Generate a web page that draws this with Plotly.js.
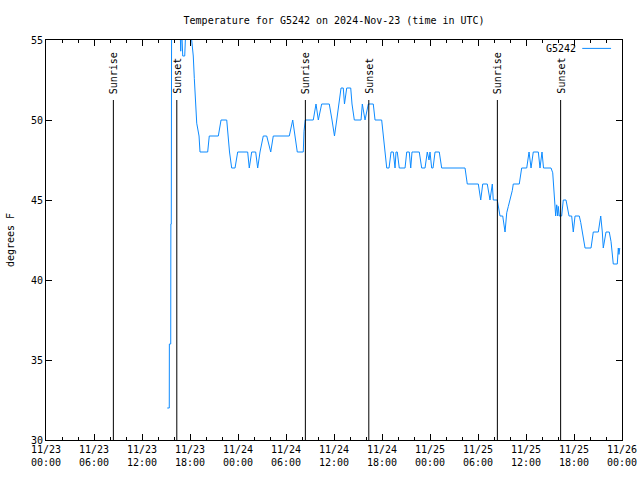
<!DOCTYPE html>
<html>
<head>
<meta charset="utf-8">
<script src="https://cdn.plot.ly/plotly-3.0.1.min.js"></script>
<style>html,body{margin:0;padding:0;background:#fff}#chart{width:640px;height:480px}</style>
</head>
<body>
<div id="chart"></div>
<script>
// hours since 2024-11-23 00:00 UTC
const hours = [15.16,15.41,15.42,15.59,15.61,15.66,15.7,16.75,16.84,16.94,17.09,17.34,17.5,18.0,18.21,18.41,18.54,18.75,18.84,19.13,19.25,20.21,20.41,21.54,21.88,22.59,22.75,22.94,23.21,23.63,23.96,25.21,25.41,25.71,26.21,26.46,26.75,27.16,27.59,28.09,28.41,30.41,30.84,31.13,31.41,32.16,32.25,32.41,33.41,33.75,34.04,34.46,35.41,35.75,36.06,36.34,36.63,36.88,37.16,37.31,37.59,38.09,38.25,38.54,39.38,39.54,39.88,40.29,40.91,41.13,41.96,42.16,42.38,42.59,42.88,43.13,43.41,43.63,43.75,43.91,44.16,44.88,45.09,45.41,45.59,45.75,45.91,46.66,46.96,47.38,47.66,47.88,48.0,48.21,48.38,48.63,49.16,49.46,52.38,52.66,54.04,54.34,54.59,55.16,55.5,55.79,55.91,56.41,56.75,57.09,57.38,57.59,57.79,58.0,58.29,58.41,59.16,59.46,60.09,60.38,60.63,60.91,61.54,61.75,62.0,62.19,63.13,63.34,63.5,63.63,63.71,63.84,63.96,64.04,64.16,64.46,64.66,65.0,65.16,65.38,65.71,65.91,66.13,66.66,66.84,67.04,67.16,67.38,68.13,68.41,69.04,69.34,69.54,69.66,70.0,70.41,70.63,70.71,70.91,71.41,71.54,71.62,71.72];
const temps = [32,32,36,36,43.5,43.5,56,56,54.3,56,54,54,56,56,55,54,52.6,51,49.8,49,48,48,49,49,50,50,49,48,47,47,48,48,47,48,48,47,48,49,49,48,49,49,50,49,48,48,49.3,50,50,51,50,51,51,50,49,50,51,52,52,51,52,52,51,50,50,51,50,51,51,50,50,49,48.25,47,47,48,48,47,48,48,47,47,48,48,47,48,48,48,47,47,48,47.5,48,47,47,48,48,47,47,46,46,45,46,46,45,46,45,45,44,44,43,44.2,44.6,45,45.6,46,46,47,47,48,47,48,48,47,48,47,47,46.7,45.5,44.7,44,44.7,44,44.6,44,44,45,45,44.6,44,44,43,44,44,43.6,43,42.5,42,42,43,43,44,43,42,43,43,42.4,42,41,41,42,41.6,42];

const sunrise = [8.42, 32.42, 56.42];
const sunset = [16.35, 40.35, 64.33];

const xTickVals = [0,6,12,18,24,30,36,42,48,54,60,66,72];
const xTickText = ["11/23<br>00:00","11/23<br>06:00","11/23<br>12:00","11/23<br>18:00","11/24<br>00:00","11/24<br>06:00","11/24<br>12:00","11/24<br>18:00","11/25<br>00:00","11/25<br>06:00","11/25<br>12:00","11/25<br>18:00","11/26<br>00:00"];
const yTickVals = [30,35,40,45,50,55];

const seriesName = "G5242";
const titleText = "Temperature for G5242 on 2024-Nov-23 (time in UTC)";
const lineColor = "#0d8bff";
const FONT = "DejaVu Sans Mono, monospace";

const shapes = [];
const annotations = [];
const markerTop = 51.25;
function addMarker(t, label) {
  shapes.push({type:'line', xref:'x', yref:'y', x0:t, x1:t, y0:30, y1:markerTop, line:{color:'#000', width:1}});
  annotations.push({xref:'x', yref:'y', x:t, y:markerTop + 0.25, text:label, textangle:-90, showarrow:false,
    xanchor:'center', yanchor:'bottom', font:{family:FONT, size:10, color:'#000'}});
}
sunrise.forEach(t => addMarker(t, 'Sunrise'));
sunset.forEach(t => addMarker(t, 'Sunset'));

// legend (gnuplot style: text then line sample)
annotations.push({xref:'paper', yref:'paper', x:0.923, y:0.979, text:seriesName, showarrow:false,
  xanchor:'right', yanchor:'middle', font:{family:FONT, size:10, color:'#000'}});
shapes.push({type:'line', xref:'paper', yref:'paper', x0:0.931, x1:0.981, y0:0.979, y1:0.979, line:{color:lineColor, width:1}});

const trace = {x: hours, y: temps, type:'scatter', mode:'lines', name: seriesName,
  line:{color:lineColor, width:1}, showlegend:false};

const layout = {
  width:640, height:480,
  margin:{l:46, r:18, t:40, b:40},
  paper_bgcolor:'#fff', plot_bgcolor:'#fff',
  font:{family:FONT, size:10, color:'#000'},
  title:{text:titleText, x:0.522, xanchor:'center', y:0.958, yanchor:'middle', font:{family:FONT, size:10, color:'#000'}},
  xaxis:{range:[0,72], tickmode:'array', tickvals:xTickVals, ticktext:xTickText,
    showgrid:false, zeroline:false, showline:true, linecolor:'#000', linewidth:1, mirror:'ticks',
    ticks:'inside', ticklen:6, tickcolor:'#000', tickfont:{family:FONT, size:10},
    minor:{tickmode:'linear', tick0:0, dtick:2, ticks:'inside', ticklen:3, tickcolor:'#000', showgrid:false}},
  yaxis:{range:[30,55], tickmode:'array', tickvals:yTickVals,
    showgrid:false, zeroline:false, showline:true, linecolor:'#000', linewidth:1, mirror:'ticks',
    ticks:'inside', ticklen:6, tickcolor:'#000', tickfont:{family:FONT, size:10},
    title:{text:'degrees F', font:{family:FONT, size:10}, standoff:14}},
  shapes: shapes,
  annotations: annotations
};

Plotly.newPlot('chart', [trace], layout, {staticPlot:true, displayModeBar:false});
</script>
</body>
</html>
